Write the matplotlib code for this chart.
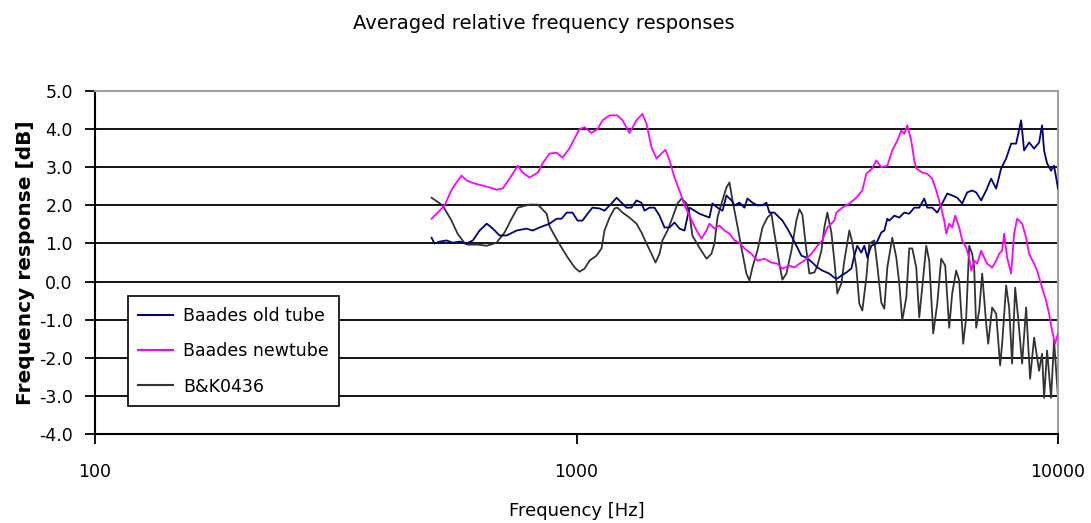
import matplotlib
matplotlib.use("Agg")
import matplotlib.pyplot as plt
from matplotlib.ticker import FixedLocator, FixedFormatter, NullLocator

# ---------------- data ----------------
old_freq = [500, 507, 520, 537, 553, 572, 592, 609, 629, 651, 670, 692, 716, 751, 787, 811,
            838, 879, 910, 931, 954, 981, 1005, 1029, 1054, 1079, 1116, 1143, 1182, 1211,
            1240, 1270, 1300, 1332, 1364, 1384, 1417, 1452, 1487, 1523, 1560, 1598, 1636,
            1676, 1716, 1758, 1800, 1844, 1888, 1915, 1962, 2010, 2048, 2098, 2128, 2179,
            2232, 2264, 2319, 2375, 2433, 2480, 2515, 2576, 2613, 2676, 2741, 2807, 2875,
            2931, 3002, 3089, 3164, 3240, 3350, 3431, 3480, 3548, 3634, 3721, 3775, 3829,
            3903, 3960, 4017, 4094, 4193, 4295, 4357, 4420, 4462, 4570, 4680, 4793, 4909,
            5028, 5149, 5274, 5350, 5479, 5612, 5747, 5886, 6028, 6174, 6323, 6476, 6632,
            6760, 6924, 7091, 7262, 7438, 7617, 7802, 7990, 8184, 8381, 8502, 8707, 8918,
            9133, 9265, 9354, 9489, 9671, 9811, 10000]
old_db = [1.15, 1.0, 1.05, 1.08, 1.02, 1.05, 1.0, 1.08, 1.34, 1.52, 1.39, 1.21, 1.21, 1.34,
          1.39, 1.34, 1.42, 1.52, 1.65, 1.65, 1.81, 1.81, 1.6, 1.6, 1.78, 1.94, 1.92, 1.86,
          2.05, 2.2, 2.07, 1.94, 1.94, 2.13, 2.07, 1.86, 1.94, 1.94, 1.73, 1.42, 1.42, 1.55,
          1.39, 1.34, 1.94, 1.86, 1.78, 1.73, 1.68, 2.05, 1.94, 1.86, 2.26, 2.13, 2.0, 2.07,
          1.94, 2.18, 2.07, 2.0, 2.0, 2.07, 1.81, 1.81, 1.73, 1.6, 1.39, 1.15, 0.89, 0.68,
          0.63, 0.5, 0.37, 0.29, 0.21, 0.1, 0.08, 0.16, 0.24, 0.34, 0.68, 0.94, 0.76, 0.94,
          0.63, 0.94, 1.0, 1.29, 1.34, 1.65, 1.6, 1.73, 1.68, 1.81, 1.78, 1.94, 1.94, 2.18,
          1.94, 1.94, 1.81, 2.05, 2.31, 2.26, 2.2, 2.05, 2.34, 2.39, 2.34, 2.13, 2.39, 2.7,
          2.44, 2.97, 3.23, 3.62, 3.62, 4.23, 3.44, 3.65, 3.49, 3.65, 4.1, 3.44, 3.1, 2.91,
          3.04, 2.44]

new_freq = [500, 514, 532, 550, 563, 577, 592, 615, 638, 660, 682, 702, 726, 755, 773, 799,
            831, 850, 879, 910, 935, 967, 1014, 1039, 1074, 1106, 1132, 1171, 1216, 1246,
            1288, 1332, 1370, 1397, 1431, 1466, 1501, 1530, 1560, 1598, 1636, 1676, 1716,
            1775, 1817, 1862, 1888, 1934, 1981, 2029, 2078, 2128, 2179, 2232, 2308, 2375,
            2456, 2539, 2613, 2676, 2767, 2834, 2903, 2973, 3074, 3164, 3240, 3318, 3431,
            3464, 3565, 3686, 3811, 3922, 3998, 4113, 4193, 4295, 4420, 4526, 4636, 4725,
            4793, 4862, 4956, 5028, 5076, 5223, 5350, 5479, 5585, 5719, 5802, 5858, 5942,
            6028, 6115, 6233, 6323, 6445, 6538, 6601, 6696, 6792, 6924, 7024, 7125, 7297,
            7438, 7545, 7654, 7728, 7839, 7990, 8106, 8223, 8421, 8584, 8707, 8918, 9046,
            9264, 9444, 9579, 9717, 9858, 10000]
new_db = [1.65, 1.8, 2.0, 2.4, 2.6, 2.78, 2.65, 2.57, 2.52, 2.47, 2.41, 2.44, 2.7, 3.04,
          2.86, 2.73, 2.86, 3.1, 3.36, 3.38, 3.25, 3.5, 4.0, 4.05, 3.9, 4.0, 4.23, 4.36,
          4.36, 4.23, 3.9, 4.23, 4.4, 4.15, 3.52, 3.23, 3.36, 3.46, 3.18, 2.73, 2.39, 2.0,
          1.73, 1.34, 1.13, 1.34, 1.52, 1.39, 1.47, 1.34, 1.26, 1.08, 1.02, 0.87, 0.73,
          0.55, 0.6, 0.5, 0.47, 0.34, 0.42, 0.37, 0.47, 0.55, 0.73, 0.94, 1.08, 1.42, 1.6,
          1.81, 1.94, 2.05, 2.2, 2.39, 2.83, 2.97, 3.18, 3.0, 3.04, 3.44, 3.7, 3.96, 3.88,
          4.1, 3.7, 3.18, 2.97, 2.86, 2.83, 2.7, 2.39, 1.94, 1.6, 1.26, 1.52, 1.42, 1.73,
          1.42, 1.08, 0.89, 0.63, 0.29, 0.55, 0.47, 0.81, 0.63, 0.47, 0.37, 0.55, 0.73,
          0.81, 1.26, 0.63, 0.21, 1.26, 1.65, 1.52, 1.15, 0.73, 0.47, 0.29, -0.16, -0.5,
          -0.84, -1.29, -1.63, -1.36]

bk_freq = [500, 527, 550, 566, 586, 594, 624, 651, 682, 709, 733, 755, 799, 831, 867, 879,
           901, 931, 959, 991, 1014, 1039, 1064, 1100, 1127, 1143, 1171, 1199, 1216, 1246,
           1288, 1332, 1364, 1397, 1431, 1459, 1487, 1508, 1545, 1582, 1621, 1652, 1692,
           1716, 1741, 1800, 1862, 1906, 1934, 1962, 2000, 2048, 2078, 2108, 2148, 2200,
           2253, 2286, 2319, 2375, 2433, 2491, 2539, 2576, 2638, 2676, 2728, 2794, 2861,
           2903, 2945, 3002, 3045, 3119, 3164, 3225, 3271, 3318, 3382, 3431, 3480, 3548,
           3599, 3686, 3739, 3811, 3866, 3922, 3998, 4055, 4153, 4213, 4295, 4357, 4420,
           4526, 4614, 4680, 4747, 4839, 4909, 4980, 5076, 5149, 5223, 5325, 5401, 5505,
           5612, 5719, 5830, 5942, 6028, 6144, 6233, 6353, 6445, 6538, 6632, 6696, 6760,
           6858, 6957, 7091, 7160, 7297, 7438, 7581, 7654, 7802, 7914, 8028, 8145, 8261,
           8421, 8584, 8749, 8918, 9133, 9265, 9354, 9489, 9671, 9811, 10000]
bk_db = [2.2, 2.0, 1.6, 1.26, 1.0, 0.97, 0.97, 0.94, 1.02, 1.29, 1.65, 1.94, 2.02, 2.02,
         1.78, 1.45, 1.2, 0.89, 0.63, 0.37, 0.26, 0.34, 0.55, 0.68, 0.87, 1.34, 1.68, 1.92,
         1.94, 1.81, 1.68, 1.52, 1.29, 1.0, 0.73, 0.5, 0.73, 1.08, 1.34, 1.68, 2.05, 2.18,
         2.05, 1.78, 1.2, 0.89, 0.6, 0.73, 1.0, 1.68, 2.05, 2.47, 2.6, 2.13, 1.6, 0.89,
         0.21, 0.03, 0.37, 0.81, 1.42, 1.68, 1.78, 1.26, 0.47, 0.05, 0.21, 0.81, 1.6, 1.9,
         1.75, 0.81, 0.21, 0.24, 0.42, 0.81, 1.42, 1.81, 1.29, 0.55, -0.31, -0.05, 0.55,
         1.34, 1.02, 0.37, -0.58, -0.76, 0.1, 1.0, 1.08, 0.42, -0.55, -0.71, 0.37, 1.15,
         0.63, -0.05, -1.02, -0.42, 0.87, 0.87, 0.37, -0.94, -0.16, 0.94, 0.55, -1.36,
         -0.58, 0.6, 0.42, -1.21, -0.31, 0.29, 0.03, -1.63, -0.94, 0.94, 0.73, 0.37, -1.21,
         -0.76, 0.21, -1.1, -1.63, -0.68, -0.84, -2.2, -1.63, -0.1, -0.68, -2.15, -0.16,
         -0.94, -2.15, -0.68, -2.55, -1.47, -2.34, -1.89, -3.05, -1.81, -3.05, -1.55, -3.05]

series_labels = ["Baades old tube", "Baades newtube", "B&K0436"]
x_ticks = [100, 1000, 10000]
x_tick_labels = ["100", "1000", "10000"]
y_ticks = [-4.0, -3.0, -2.0, -1.0, 0.0, 1.0, 2.0, 3.0, 4.0, 5.0]

title_text = "Averaged relative frequency responses"
x_label = "Frequency [Hz]"
y_label = "Frequency response [dB]"

# ---------------- figure ----------------
plt.rcParams['font.family'] = ['DejaVu Sans']
fig = plt.figure(figsize=(10.91, 5.23), dpi=100)
ax = fig.add_axes([0.0871, 0.170, 0.8827, 0.656])

ax.set_xscale('log')
ax.set_xlim(100, 10000)
ax.set_ylim(-4, 5)

for yv in y_ticks[1:-1]:
    ax.axhline(yv, color='black', lw=1.3, zorder=1)

ax.plot(old_freq, old_db, color='#000080', lw=1.3, label=series_labels[0], zorder=3)
ax.plot(new_freq, new_db, color='#FF00FF', lw=1.3, label=series_labels[1], zorder=3)
ax.plot(bk_freq, bk_db, color='#333333', lw=1.3, label=series_labels[2], zorder=2)

ax.xaxis.set_major_locator(FixedLocator(x_ticks))
ax.xaxis.set_major_formatter(FixedFormatter(x_tick_labels))
ax.xaxis.set_minor_locator(NullLocator())
ax.set_yticks(y_ticks)
ax.set_yticklabels([f"{v:.1f}" for v in y_ticks])

ax.tick_params(axis='x', direction='out', length=7, width=1.3, pad=14, labelsize=12.5)
ax.tick_params(axis='y', direction='out', length=7, width=1.3, pad=9, labelsize=12.5)

for s in ['left', 'bottom']:
    ax.spines[s].set_color('black')
    ax.spines[s].set_linewidth(1.5)
for s in ['top', 'right']:
    ax.spines[s].set_color('#a0a0a0')
    ax.spines[s].set_linewidth(1.5)

ax.set_xlabel(x_label, fontsize=13, labelpad=15)
ax.set_ylabel(y_label, fontsize=14.5, fontweight='bold', labelpad=3)
fig.text(0.498, 0.955, title_text, ha='center', va='center', fontsize=14)

leg = ax.legend(loc='lower left', bbox_to_anchor=(0.034, 0.082), frameon=True,
                fancybox=False, edgecolor='black', framealpha=1.0, fontsize=12.5,
                handlelength=2.0, borderpad=0.6, labelspacing=1.0, handletextpad=0.6,
                borderaxespad=0.0)
leg.get_frame().set_linewidth(1.2)
for line in leg.get_lines():
    line.set_linewidth(1.5)

fig.savefig('out.png', dpi=100)
